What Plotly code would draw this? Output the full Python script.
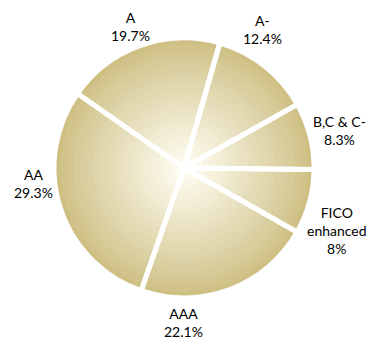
import plotly.graph_objects as go

# data, clockwise from 12 o'clock
labels = ["A-", "B,C & C-", "FICO<br>enhanced", "AAA", "AA", "A"]
values = [12.4, 8.3, 8.0, 22.1, 29.3, 19.7]
value_text = ["12.4%", "8.3%", "8%", "22.1%", "29.3%", "19.7%"]

# label centres in screen px, same order as labels
label_px = [262, 339, 337, 183, 34, 130]
label_py = [30, 130, 230, 322, 184, 27]

OFF = 8  # page body margin shifts the plot by this much
W, H = 376 - 2 * OFF, 350 - 2 * OFF  # fit the page without scrollbars
CX, CY, R = 184 - OFF, 168 - OFF, 130  # pie centre / radius in figure px
N_RINGS = 20
ROT = 16

edge = (204, 189, 127)
centre = (255, 254, 244)


def ring_color(frac):
    w = (1 - frac) ** 0.9
    c = [round(e + w * (m - e)) for e, m in zip(edge, centre)]
    return "rgb(%d,%d,%d)" % tuple(c)


def dom(r):
    return dict(
        x=[(CX - r) / W, (CX + r) / W],
        y=[(H - CY - r) / H, (H - CY + r) / H],
    )


fig = go.Figure()

# fake radial gradient: stack of shrinking pies, biggest first
for k in range(N_RINGS):
    frac = (N_RINGS - k) / N_RINGS
    col = ring_color(frac - 0.5 / N_RINGS)
    fig.add_trace(
        go.Pie(
            labels=labels,
            values=values,
            sort=False,
            direction="clockwise",
            rotation=ROT,
            marker=dict(colors=[col] * len(values), line=dict(width=0)),
            textinfo="none",
            hoverinfo="skip",
            showlegend=False,
            domain=dom(R * frac),
        )
    )

# white separators on top
fig.add_trace(
    go.Pie(
        labels=labels,
        values=values,
        sort=False,
        direction="clockwise",
        rotation=ROT,
        marker=dict(colors=["rgba(0,0,0,0)"] * len(values), line=dict(color="white", width=5)),
        textinfo="none",
        hoverinfo="skip",
        showlegend=False,
        domain=dom(R),
    )
)

for lab, vt, px, py in zip(labels, value_text, label_px, label_py):
    fig.add_annotation(
        x=(px - OFF) / W, y=(H - (py - OFF)) / H, xref="paper", yref="paper",
        xanchor="center", yanchor="middle",
        text=f"{lab}<br>{vt}",
        showarrow=False,
        font=dict(family="Lato", size=14, color="#000000"),
        align="center",
    )

fig.update_layout(
    width=W,
    height=H,
    margin=dict(l=0, r=0, t=0, b=0),
    paper_bgcolor="white",
    plot_bgcolor="white",
)

fig.write_html("out.html")
